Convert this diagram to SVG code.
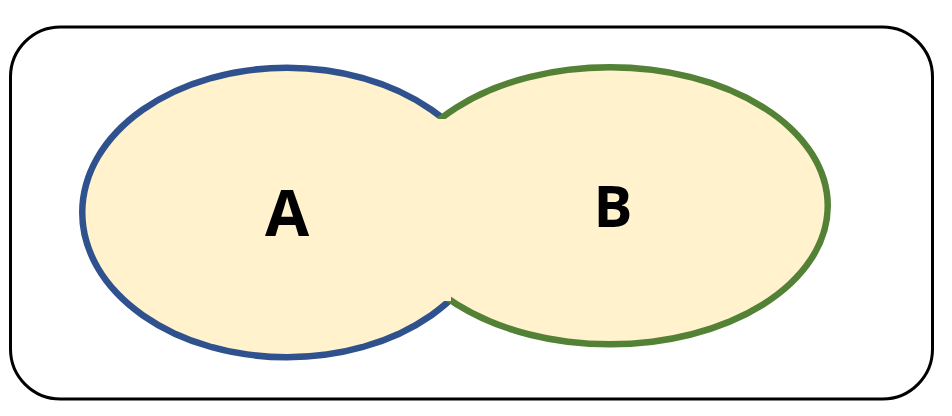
<svg xmlns="http://www.w3.org/2000/svg" width="952" height="416" viewBox="0 0 952 416">
<style>
.frame{fill:#FFFFFF;stroke:#000000;stroke-width:3}
.fillc{fill:#FFF2CC;stroke:none}
.lbl{font-family:"Open Sans","DejaVu Sans",sans-serif;font-weight:bold;fill:#000000;text-anchor:middle}
</style>
<g id="frame"><rect class="frame" x="10.5" y="27" width="922" height="372" rx="50" ry="50"/></g>
<g id="outlines">
<ellipse cx="287" cy="212.5" rx="201.5" ry="141.5" fill="none" stroke="#2F528F" stroke-width="13"/>
<ellipse cx="610" cy="205.8" rx="214.5" ry="135.3" fill="none" stroke="#538135" stroke-width="13"/>
</g>
<g id="nodeA"><ellipse class="fillc" cx="287" cy="212.5" rx="201.5" ry="141.5"/></g>
<g id="nodeB"><ellipse class="fillc" cx="610" cy="205.8" rx="214.5" ry="135.3"/></g>
<g id="join"><rect class="fillc" x="437" y="119" width="14" height="182"/></g>
<g id="labels">
<text class="lbl" x="287" y="236" font-size="64">A</text>
<text class="lbl" x="613" y="227" font-size="58">B</text>
</g>
</svg>
